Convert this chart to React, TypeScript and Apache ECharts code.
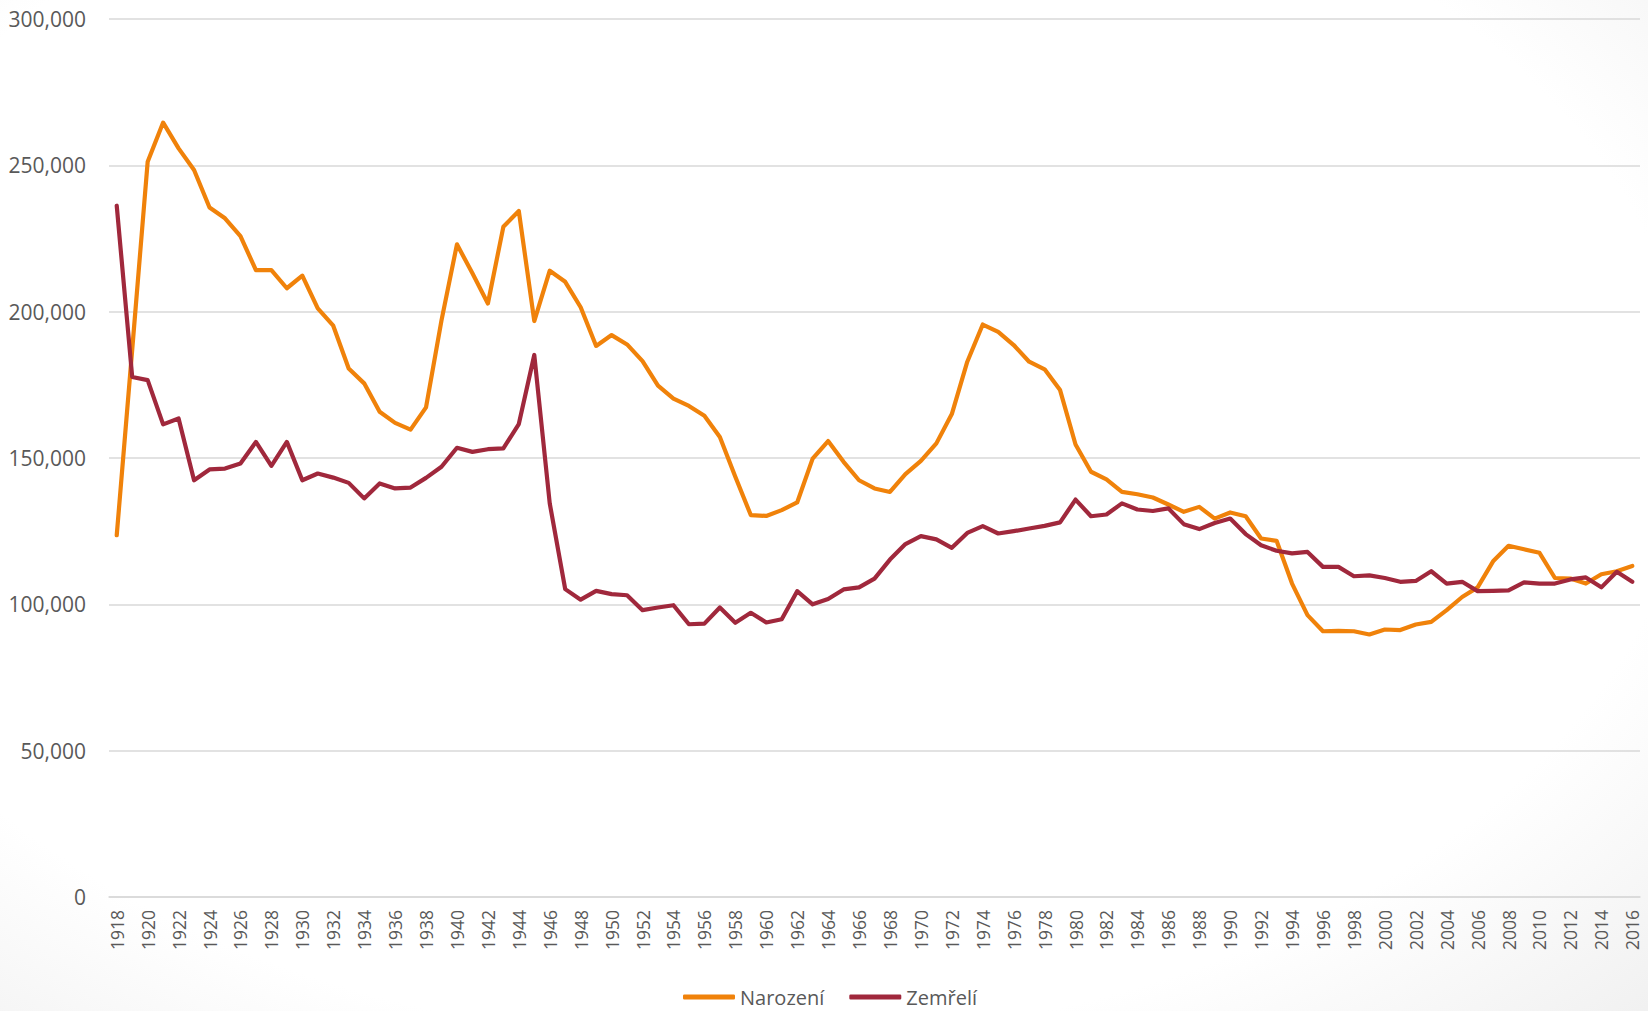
import React, { useEffect, useRef } from "react";
import * as echarts from "echarts";

const FIRST_YEAR = 1918;
const LAST_YEAR = 2016;
const years: string[] = [];
for (let y = FIRST_YEAR; y <= LAST_YEAR; y++) years.push(String(y));

const seriesNames = ["Narození", "Zemřelí"];

const narozeni = [
  123600, 187000, 251200, 264600, 255800, 248400, 235600, 231900, 225800, 214200,
  214200, 208000, 212300, 201100, 195200, 180600, 175500, 165800, 162000, 159700,
  167300, 197000, 223000, 213100, 202800, 229000, 234400, 196800, 214000, 210200,
  201500, 188300, 192000, 188800, 183100, 174700, 170300, 167800, 164400, 157200,
  143600, 130500, 130200, 132200, 134800, 149800, 155800, 148700, 142400, 139600,
  138400, 144500, 149000, 155000, 165000, 182900, 195600, 193100, 188600, 182900,
  180300, 173200, 154600, 145300, 142700, 138400, 137600, 136500, 134100, 131600,
  133300, 129300, 131400, 130100, 122500, 121700, 107100, 96300, 90800, 90900,
  90800, 89700, 91400, 91200, 93100, 94000, 98000, 102500, 105800, 114700,
  120000, 118800, 117600, 109000, 108800, 107100, 110300, 111300, 113100,
];

const zemreli = [
  236200, 177700, 176600, 161500, 163500, 142400, 146100, 146400, 148100, 155500,
  147300, 155500, 142400, 144700, 143300, 141500, 136200, 141300, 139600, 139900,
  143200, 147000, 153500, 152100, 153000, 153300, 161600, 185200, 134500, 105200,
  101600, 104600, 103500, 103100, 98000, 98900, 99700, 93200, 93400, 98900,
  93700, 97100, 93800, 94900, 104500, 100000, 101800, 105100, 105800, 108800,
  115300, 120600, 123300, 122200, 119300, 124400, 126700, 124200, 125000, 125900,
  126800, 128000, 135800, 130100, 130700, 134500, 132400, 131900, 132800, 127400,
  125700, 127800, 129300, 124000, 120200, 118300, 117400, 117900, 112800, 112800,
  109600, 109900, 109000, 107700, 108000, 111300, 107100, 107700, 104500, 104600,
  104800, 107500, 107100, 107100, 108500, 109200, 105800, 111100, 107700,
];

const Y_MIN = 0;
const Y_MAX = 300000;
const Y_STEP = 50000;

const ORANGE = "#F0820A";
const RED = "#A0283C";
const FONT = "'Open Sans', sans-serif";

export default function App() {
  const ref = useRef<HTMLDivElement>(null);

  useEffect(() => {
    document.body.style.margin = "0";
    if (!ref.current) return;
    const chart = echarts.init(ref.current, null, { renderer: "svg" });
    chart.setOption({
      animation: false,
      backgroundColor: "transparent",
      textStyle: { fontFamily: FONT },
      grid: { left: 109, right: 8, top: 19, bottom: 114, containLabel: false },
      legend: {
        data: [
          { name: seriesNames[0], icon: "roundRect" },
          { name: seriesNames[1], icon: "roundRect" },
        ],
        left: 683,
        top: 986,
        padding: 0,
        itemWidth: 52,
        itemHeight: 5,
        itemGap: 25,
        textStyle: {
          fontFamily: FONT,
          fontSize: 20,
          lineHeight: 22,
          color: "#595959",
        },
      },
      xAxis: {
        type: "category",
        data: years,
        boundaryGap: true,
        axisLine: { show: true, lineStyle: { color: "#d9d9d9", width: 1.5 } },
        axisTick: { show: false },
        axisLabel: {
          rotate: 90,
          interval: 1,
          margin: 13,
          fontFamily: FONT,
          fontSize: 17.5,
          color: "#595959",
        },
        splitLine: { show: false },
      },
      yAxis: {
        type: "value",
        min: Y_MIN,
        max: Y_MAX,
        interval: Y_STEP,
        axisLine: { show: false },
        axisTick: { show: false },
        axisLabel: {
          margin: 23,
          fontFamily: FONT,
          fontSize: 21,
          color: "#595959",
          formatter: (v: number) => v.toLocaleString("en-US"),
        },
        splitLine: { show: true, lineStyle: { color: "#d9d9d9", width: 1.5 } },
      },
      series: [
        {
          name: seriesNames[0],
          type: "line",
          data: narozeni,
          symbol: "none",
          smooth: false,
          color: ORANGE,
          lineStyle: { color: ORANGE, width: 4.2, join: "round", cap: "round" },
          z: 2,
        },
        {
          name: seriesNames[1],
          type: "line",
          data: zemreli,
          symbol: "none",
          smooth: false,
          color: RED,
          lineStyle: { color: RED, width: 4.2, join: "round", cap: "round" },
          z: 3,
        },
      ],
    });
    return () => chart.dispose();
  }, []);

  return (
    <div
      style={{
        position: "absolute",
        left: 0,
        top: 0,
        width: 1648,
        height: 1011,
        background:
          "radial-gradient(ellipse 80% 85% at 45% 42%, #ffffff 72%, #efefef 100%)",
      }}
    >
      <div ref={ref} style={{ width: 1648, height: 1011 }} />
    </div>
  );
}
